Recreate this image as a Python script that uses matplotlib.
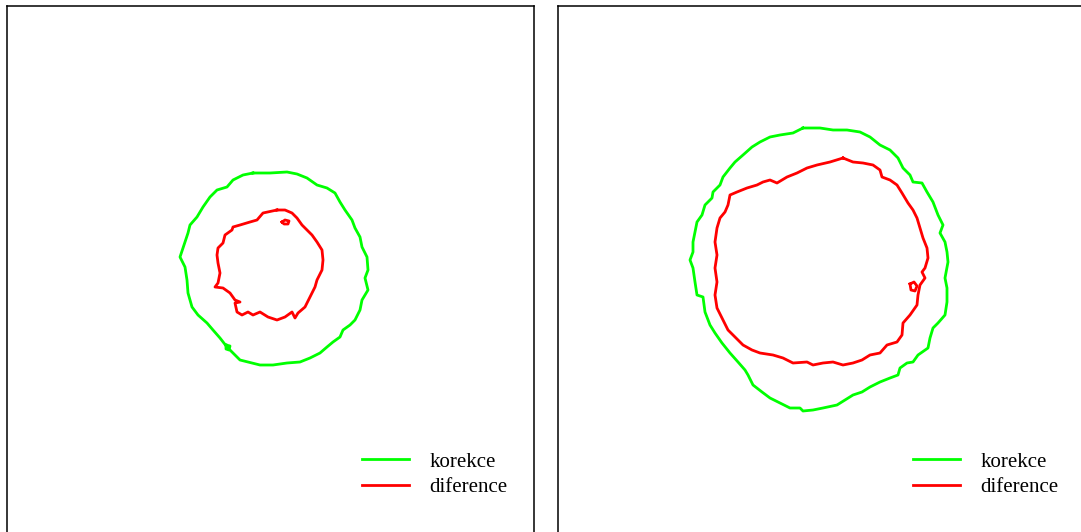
import numpy as np
import matplotlib.pyplot as plt

plt.rcParams['font.family'] = ['Liberation Serif', 'DejaVu Serif']

# contour traces, pixel coordinates inside each 527x527 panel (y down)
left_korekce_x = [246, 263, 280, 290, 300, 310, 320, 328, 333, 338, 345, 348, 353, 355, 360, 361,
                  358, 361, 355, 353, 348, 343, 336, 333, 326, 320, 313, 303, 293, 280, 266, 253,
                  241, 233, 226, 220, 213, 206, 200, 191, 185, 181, 180, 178, 173, 176, 181, 183,
                  190, 196, 203, 210, 220, 226, 236, 246]
left_korekce_y = [167, 167, 166, 168, 172, 179, 182, 187, 196, 204, 214, 222, 231, 241, 251, 264,
                  272, 284, 294, 304, 314, 319, 324, 331, 336, 341, 347, 352, 356, 357, 359, 359,
                  356, 354, 347, 341, 332, 324, 317, 309, 301, 287, 274, 261, 251, 242, 227, 219,
                  211, 201, 191, 184, 181, 174, 169, 167]
left_korekce_blob_x = [219, 223, 222, 219, 219]
left_korekce_blob_y = [339, 340, 344, 343, 339]

left_diference_x = [270, 256, 250, 243, 233, 226, 225, 218, 216, 211, 210, 211, 213, 211, 208, 216,
                    223, 228, 233, 228, 230, 235, 241, 246, 253, 261, 270, 278, 285, 288, 291, 298,
                    303, 308, 310, 315, 316, 315, 310, 305, 300, 295, 290, 285, 278, 270]
left_diference_y = [204, 207, 214, 216, 219, 221, 224, 229, 237, 242, 249, 257, 267, 277, 281, 282,
                    287, 294, 296, 297, 306, 309, 306, 309, 306, 311, 314, 311, 306, 312, 307, 301,
                    291, 281, 274, 264, 254, 244, 236, 229, 224, 219, 212, 207, 204, 204]
left_diference_loop_x = [275, 278, 282, 281, 277, 275]
left_diference_loop_y = [216, 214, 215, 218, 218, 216]

right_korekce_x = [245, 262, 275, 289, 302, 312, 322, 332, 340, 345, 352, 355, 364, 369, 375, 380,
                   385, 382, 387, 389, 390, 387, 389, 389, 387, 380, 375, 372, 370, 360, 355, 349,
                   342, 340, 332, 322, 312, 304, 295, 287, 279, 265, 255, 245, 242, 232, 222, 212,
                   204, 195, 190, 187, 180, 172, 164, 157, 152, 147, 145, 139, 137, 135, 132, 135,
                   135, 137, 139, 144, 147, 154, 155, 162, 165, 172, 177, 185, 194, 202, 212, 222,
                   235, 245]
right_korekce_y = [122, 122, 124, 124, 126, 131, 139, 144, 152, 162, 169, 176, 177, 186, 196, 209,
                   219, 227, 236, 246, 256, 272, 282, 296, 309, 317, 322, 332, 342, 349, 356, 357,
                   362, 369, 372, 376, 381, 386, 389, 394, 399, 402, 404, 405, 402, 402, 397, 392,
                   386, 379, 369, 364, 356, 347, 337, 327, 319, 306, 291, 289, 276, 262, 254, 246,
                   236, 226, 216, 209, 199, 192, 186, 179, 171, 162, 156, 149, 141, 136, 131, 129,
                   127, 122]

right_diference_x = [285, 295, 305, 315, 322, 324, 332, 339, 344, 350, 355, 359, 362, 365, 369, 370,
                     367, 364, 367, 362, 360, 359, 352, 345, 344, 339, 329, 322, 312, 304, 295, 285,
                     275, 265, 255, 249, 235, 225, 215, 202, 194, 185, 177, 170, 164, 159, 157, 159,
                     157, 159, 157, 159, 162, 167, 170, 172, 179, 189, 199, 205, 212, 219, 229, 239,
                     249, 259, 272, 285]
right_diference_y = [152, 156, 157, 159, 164, 171, 174, 179, 187, 197, 204, 212, 222, 232, 242, 252,
                     262, 266, 272, 279, 289, 299, 309, 317, 329, 336, 339, 347, 349, 354, 357, 359,
                     356, 357, 359, 356, 357, 352, 349, 347, 344, 339, 331, 324, 312, 302, 289, 276,
                     262, 249, 236, 222, 212, 206, 199, 189, 186, 182, 179, 176, 174, 177, 171, 167,
                     162, 159, 156, 152]
right_diference_loop_x = [352, 356, 359, 357, 353, 352]
right_diference_loop_y = [278, 276, 280, 285, 284, 278]

panels = [
    (left_korekce_x, left_korekce_y, left_diference_x, left_diference_y,
     [(left_korekce_blob_x, left_korekce_blob_y, '#00ff00'),
      (left_diference_loop_x, left_diference_loop_y, '#ff0000')]),
    (right_korekce_x, right_korekce_y, right_diference_x, right_diference_y,
     [(right_diference_loop_x, right_diference_loop_y, '#ff0000')]),
]

fig = plt.figure(figsize=(10.81, 5.32), dpi=100)
W, H = 1081, 532
lefts = [7, 558]

for left, (kx, ky, dx, dy, extras) in zip(lefts, panels):
    ax = fig.add_axes([left / W, (H - 6 - 527) / H, 527 / W, 527 / H])
    ax.plot(kx, ky, color='#00ff00', lw=2.0, label='korekce')
    ax.plot(dx, dy, color='#ff0000', lw=2.0, label='diference')
    for ex, ey, c in extras:
        ax.plot(ex, ey, color=c, lw=2.0)
    ax.set_xlim(0, 527)
    ax.set_ylim(527, 0)
    ax.set_xticks([])
    ax.set_yticks([])
    for s in ax.spines.values():
        s.set_linewidth(1.1)
    ax.legend(loc='lower right', bbox_to_anchor=(0.985, 0.032), frameon=False,
              fontsize=15, handlelength=2.3, handletextpad=0.95, labelspacing=0.3)

fig.savefig('out.png', dpi=100)
